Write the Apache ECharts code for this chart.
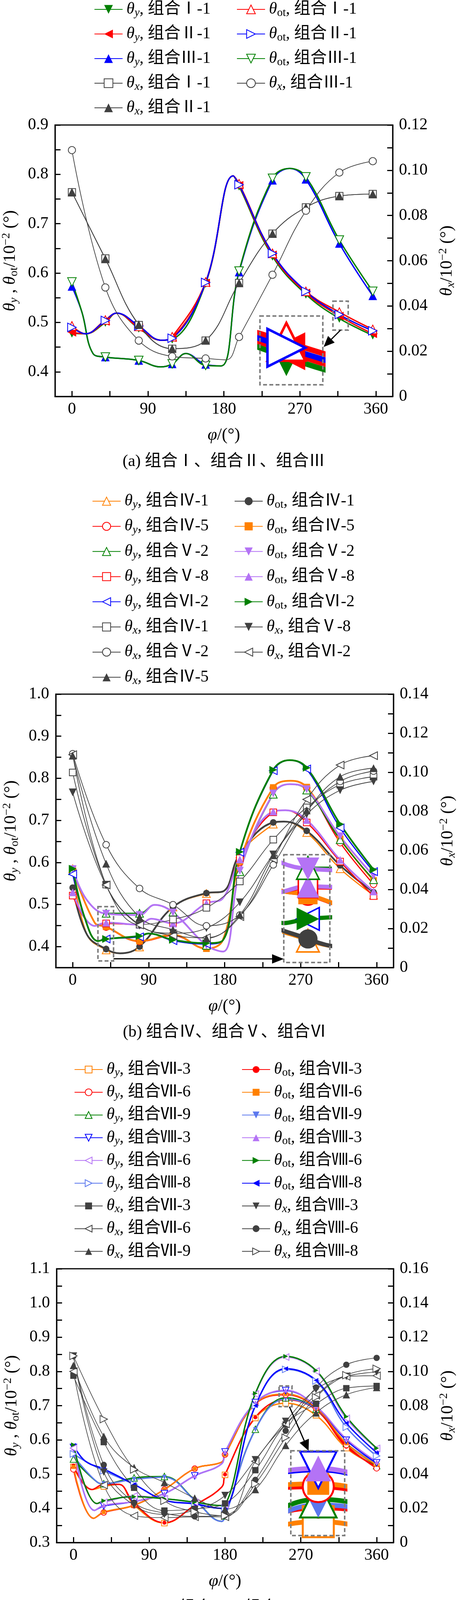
<!DOCTYPE html>
<html>
<head>
<meta charset="utf-8">
<script src="https://cdn.jsdelivr.net/npm/echarts@6/dist/echarts.min.js"></script>
<style>
html, body { margin: 0; padding: 0; background: #fff; }
#main { width: 1181px; height: 4153px; }
</style>
</head>
<body>
<div id="main"></div>
<script>
// ---------- angles (markers) ----------
var phiAB = [0, 39.6, 79.2, 118.8, 158.4, 198, 237.6, 277.2, 316.8, 356.4];
var phiC = [0, 36, 72, 108, 144, 180, 216, 252, 288, 324, 360];

// ---------- tick labels ----------
var phiTicks = [0, 45, 90, 135, 180, 225, 270, 315, 360];
var phiLabels = [0, 90, 180, 270, 360];
var aLeftLabels = [0.4, 0.5, 0.6, 0.7, 0.8, 0.9];
var aLeftTicks = [0.4, 0.45, 0.5, 0.55, 0.6, 0.65, 0.7, 0.75, 0.8, 0.85, 0.9];
var aRightLabels = [0, 0.02, 0.04, 0.06, 0.08, 0.10, 0.12];
var aRightTicks = [0, 0.01, 0.02, 0.03, 0.04, 0.05, 0.06, 0.07, 0.08, 0.09, 0.10, 0.11, 0.12];
var bLeftLabels = [0.4, 0.5, 0.6, 0.7, 0.8, 0.9, 1.0];
var bLeftTicks = [0.4, 0.45, 0.5, 0.55, 0.6, 0.65, 0.7, 0.75, 0.8, 0.85, 0.9, 0.95, 1.0];
var bRightLabels = [0, 0.02, 0.04, 0.06, 0.08, 0.10, 0.12, 0.14];
var bRightTicks = [0, 0.01, 0.02, 0.03, 0.04, 0.05, 0.06, 0.07, 0.08, 0.09, 0.10, 0.11, 0.12, 0.13, 0.14];
var cLeftLabels = [0.3, 0.4, 0.5, 0.6, 0.7, 0.8, 0.9, 1.0, 1.1];
var cLeftTicks = [0.3, 0.35, 0.4, 0.45, 0.5, 0.55, 0.6, 0.65, 0.7, 0.75, 0.8, 0.85, 0.9, 0.95, 1.0, 1.05, 1.1];
var cRightLabels = [0, 0.02, 0.04, 0.06, 0.08, 0.10, 0.12, 0.14, 0.16];
var cRightTicks = [0, 0.01, 0.02, 0.03, 0.04, 0.05, 0.06, 0.07, 0.08, 0.09, 0.10, 0.11, 0.12, 0.13, 0.14, 0.15, 0.16];

// ---------- (a) 组合Ⅰ、Ⅱ、Ⅲ ----------
var aThyI1    = [0.478, 0.500, 0.488, 0.466, 0.579, 0.776, 0.634, 0.557, 0.508, 0.474];
var aThotI1   = [0.493, 0.505, 0.492, 0.471, 0.582, 0.781, 0.640, 0.563, 0.521, 0.486];
var aThyII1   = [0.480, 0.502, 0.489, 0.469, 0.580, 0.778, 0.637, 0.560, 0.513, 0.477];
var aThotII1  = [0.490, 0.504, 0.493, 0.468, 0.581, 0.779, 0.640, 0.563, 0.516, 0.483];
var aThyIII1  = [0.573, 0.430, 0.423, 0.416, 0.415, 0.602, 0.788, 0.790, 0.660, 0.554];
var aThotIII1 = [0.582, 0.430, 0.423, 0.416, 0.413, 0.604, 0.792, 0.795, 0.667, 0.563];
var aThxI1    = [0.0903, 0.0610, 0.0316, 0.0211, 0.0247, 0.0502, 0.0720, 0.0836, 0.0886, 0.0895];
var aThxII1   = [0.0903, 0.0608, 0.0318, 0.0212, 0.0248, 0.0502, 0.0720, 0.0836, 0.0886, 0.0895];
var aThxIII1  = [0.1089, 0.0482, 0.0247, 0.0177, 0.0168, 0.0263, 0.0538, 0.0821, 0.0990, 0.1040];
// curve points between markers
var aBendA = [[12, 0.52], [25, 0.437], [105, 0.41], [135, 0.437], [177, 0.412], [258, 0.812]];
var aBendB = [[16, 0.477], [53, 0.519], [106, 0.464], [191, 0.797]];
var aBendX = [[183, 0.0162]];

// ---------- (b) 组合Ⅳ、Ⅴ、Ⅵ ----------
var bThyIV1   = [0.585, 0.392, 0.399, 0.494, 0.526, 0.620, 0.691, 0.671, 0.585, 0.522];
var bThotIV1  = [0.540, 0.394, 0.400, 0.494, 0.527, 0.620, 0.695, 0.675, 0.593, 0.529];
var bThyIV5   = [0.582, 0.446, 0.412, 0.426, 0.396, 0.600, 0.777, 0.777, 0.647, 0.548];
var bThotIV5  = [0.584, 0.447, 0.413, 0.428, 0.395, 0.602, 0.778, 0.779, 0.656, 0.557];
var bThyV2    = [0.580, 0.479, 0.479, 0.482, 0.403, 0.578, 0.762, 0.772, 0.654, 0.559];
var bThotV2   = [0.584, 0.478, 0.475, 0.481, 0.403, 0.580, 0.764, 0.774, 0.662, 0.568];
var bThyV8    = [0.521, 0.455, 0.452, 0.455, 0.503, 0.610, 0.719, 0.695, 0.602, 0.520];
var bThotV8   = [0.529, 0.457, 0.452, 0.455, 0.503, 0.607, 0.721, 0.701, 0.606, 0.531];
var bThyVI2   = [0.572, 0.418, 0.423, 0.414, 0.406, 0.624, 0.818, 0.822, 0.682, 0.578];
var bThotVI2  = [0.585, 0.418, 0.425, 0.416, 0.408, 0.625, 0.820, 0.825, 0.691, 0.583];
var bThxIV1   = [0.0999, 0.0425, 0.0220, 0.0246, 0.0306, 0.0441, 0.0655, 0.0820, 0.0937, 0.0977];
var bThxV8    = [0.0897, 0.0420, 0.0215, 0.0176, 0.0202, 0.0334, 0.0579, 0.0785, 0.0908, 0.0953];
var bThxV2    = [0.1095, 0.0629, 0.0405, 0.0322, 0.0214, 0.0269, 0.0526, 0.0800, 0.0953, 0.1006];
var bThxVI2   = [0.1090, 0.0423, 0.0218, 0.0164, 0.0153, 0.0261, 0.0555, 0.0861, 0.1037, 0.1085];
var bThxIV5   = [0.1085, 0.0532, 0.0258, 0.0194, 0.0150, 0.0270, 0.0575, 0.0805, 0.0977, 0.1021];
var bBendIV1 = [[17, 0.428], [56, 0.384], [178, 0.531], [250, 0.697]];
var bBendIV5 = [[26, 0.457], [178, 0.416], [258, 0.794]];
var bBendV2  = [[17, 0.51], [97, 0.499], [178, 0.388], [257, 0.786]];
var bBendV8  = [[26, 0.449], [93, 0.466], [178, 0.515], [252, 0.724]];
var bBendVI2 = [[14, 0.47], [30, 0.413], [90, 0.431], [178, 0.415], [257, 0.843]];

// ---------- (c) 组合Ⅶ、Ⅷ ----------
var cThyVII3   = [0.521, 0.464, 0.410, 0.357, 0.409, 0.498, 0.664, 0.707, 0.672, 0.576, 0.523];
var cThotVII3  = [0.525, 0.470, 0.415, 0.358, 0.409, 0.499, 0.666, 0.717, 0.688, 0.580, 0.523];
var cThyVII6   = [0.514, 0.388, 0.409, 0.455, 0.516, 0.557, 0.705, 0.732, 0.693, 0.585, 0.517];
var cThotVII6  = [0.521, 0.389, 0.409, 0.455, 0.516, 0.557, 0.706, 0.734, 0.695, 0.590, 0.527];
var cThyVII9   = [0.544, 0.472, 0.489, 0.493, 0.425, 0.378, 0.631, 0.723, 0.690, 0.590, 0.525];
var cThotVII9  = [0.553, 0.472, 0.485, 0.491, 0.424, 0.375, 0.630, 0.719, 0.690, 0.590, 0.532];
var cThyVIII3  = [0.578, 0.407, 0.420, 0.443, 0.495, 0.565, 0.709, 0.744, 0.698, 0.599, 0.533];
var cThotVIII3 = [0.576, 0.409, 0.420, 0.443, 0.495, 0.565, 0.709, 0.745, 0.698, 0.603, 0.536];
var cThyVIII6  = [0.576, 0.418, 0.436, 0.428, 0.418, 0.410, 0.734, 0.842, 0.801, 0.663, 0.575];
var cThotVIII6 = [0.586, 0.422, 0.434, 0.428, 0.418, 0.410, 0.736, 0.844, 0.803, 0.668, 0.576];
var cThyVIII8  = [0.559, 0.510, 0.470, 0.424, 0.414, 0.401, 0.700, 0.806, 0.772, 0.637, 0.553];
var cThotVIII8 = [0.584, 0.515, 0.470, 0.424, 0.413, 0.401, 0.700, 0.808, 0.774, 0.649, 0.563];
var cThxVII3   = [0.0975, 0.0587, 0.0320, 0.0187, 0.0197, 0.0229, 0.0423, 0.0690, 0.0811, 0.0902, 0.0915];
var cThxVII6   = [0.1000, 0.0336, 0.0157, 0.0146, 0.0150, 0.0150, 0.0475, 0.0693, 0.0860, 0.0971, 0.0975];
var cThxVII9   = [0.1035, 0.0621, 0.0438, 0.0351, 0.0260, 0.0195, 0.0310, 0.0568, 0.0758, 0.0864, 0.0906];
var cThxVIII3  = [0.1090, 0.0412, 0.0218, 0.0165, 0.0190, 0.0275, 0.0484, 0.0708, 0.0895, 0.0971, 0.0997];
var cThxVIII6  = [0.1090, 0.0454, 0.0233, 0.0172, 0.0153, 0.0160, 0.0366, 0.0653, 0.0906, 0.1039, 0.1079];
var cThxVIII8  = [0.1091, 0.0721, 0.0427, 0.0244, 0.0180, 0.0157, 0.0343, 0.0613, 0.0849, 0.0978, 0.1016];
var cBendVII3  = [[22, 0.455], [54, 0.47], [176, 0.462]];
var cBendVII6  = [[24, 0.371], [176, 0.535]];
var cBendVII9  = [[28, 0.477], [176, 0.362]];
var cBendVIII3 = [[25, 0.394], [176, 0.53]];
var cBendVIII6 = [[28, 0.414], [176, 0.408]];
var cBendVIII8 = [[14, 0.538], [176, 0.40]];

// ---------- styles ----------
var SERIF = '"Liberation Serif", "Times New Roman", serif';
var CJK = '"Liberation Serif", "Noto Sans CJK SC", serif';
var GREEN = '#008000', RED = '#ff0000', BLUE = '#0000ff', ORANGE = '#ff8000';
var PURPLE = '#b473f5', ROYAL = '#5b78ee', DARK = '#404040';

var SHAPES = {
    up: ['triangle', 0],
    dn: ['triangle', 180],
    lt: ['triangle', 90],
    rt: ['triangle', -90],
    sq: ['rect', 0],
    ci: ['circle', 0]
};

// grid boxes of the three plots and of the magnified insets
var GA = {left: 141, top: 320, width: 865, height: 695};
var GB = {left: 143, top: 1777, width: 865, height: 700};
var GC = {left: 145, top: 3248, width: 863, height: 701};
var IA = {left: 666, top: 809, width: 161, height: 176};
var IB = {left: 727, top: 2188, width: 118, height: 276};
var IC = {left: 745, top: 3714, width: 138, height: 217};

// series definitions: n name, y values, e extra curve points, c colour, s shape, o open marker, k kind
var seriesA = [
    {n: 'θy, 组合Ⅲ-1', y: aThyIII1, e: aBendA, c: BLUE, s: 'up', o: false, k: 'y'},
    {n: 'θot, 组合Ⅲ-1', y: aThotIII1, e: aBendA, c: GREEN, s: 'dn', o: true, k: 'ot'},
    {n: 'θy, 组合Ⅰ-1', y: aThyI1, e: aBendB, c: GREEN, s: 'dn', o: false, k: 'y'},
    {n: 'θy, 组合Ⅱ-1', y: aThyII1, e: aBendB, c: RED, s: 'lt', o: false, k: 'y'},
    {n: 'θot, 组合Ⅰ-1', y: aThotI1, e: aBendB, c: RED, s: 'up', o: true, k: 'ot'},
    {n: 'θot, 组合Ⅱ-1', y: aThotII1, e: aBendB, c: BLUE, s: 'rt', o: true, k: 'ot'},
    {n: 'θx, 组合Ⅰ-1', y: aThxI1, e: null, c: DARK, s: 'sq', o: true, k: 'x'},
    {n: 'θx, 组合Ⅱ-1', y: aThxII1, e: null, c: DARK, s: 'up', o: false, k: 'x'},
    {n: 'θx, 组合Ⅲ-1', y: aThxIII1, e: aBendX, c: DARK, s: 'ci', o: true, k: 'x'}
];
var seriesB = [
    {n: 'θy, 组合Ⅳ-1', y: bThyIV1, e: bBendIV1, c: ORANGE, s: 'up', o: true, k: 'y'},
    {n: 'θot, 组合Ⅳ-1', y: bThotIV1, e: bBendIV1, c: DARK, s: 'ci', o: false, k: 'ot'},
    {n: 'θy, 组合Ⅳ-5', y: bThyIV5, e: bBendIV5, c: RED, s: 'ci', o: true, k: 'y'},
    {n: 'θot, 组合Ⅳ-5', y: bThotIV5, e: bBendIV5, c: ORANGE, s: 'sq', o: false, k: 'ot'},
    {n: 'θy, 组合Ⅴ-8', y: bThyV8, e: bBendV8, c: RED, s: 'sq', o: true, k: 'y'},
    {n: 'θot, 组合Ⅴ-8', y: bThotV8, e: bBendV8, c: PURPLE, s: 'up', o: false, k: 'ot'},
    {n: 'θy, 组合Ⅴ-2', y: bThyV2, e: bBendV2, c: GREEN, s: 'up', o: true, k: 'y'},
    {n: 'θot, 组合Ⅴ-2', y: bThotV2, e: bBendV2, c: PURPLE, s: 'dn', o: false, k: 'ot'},
    {n: 'θy, 组合Ⅵ-2', y: bThyVI2, e: bBendVI2, c: BLUE, s: 'lt', o: true, k: 'y'},
    {n: 'θot, 组合Ⅵ-2', y: bThotVI2, e: bBendVI2, c: GREEN, s: 'rt', o: false, k: 'ot'},
    {n: 'θx, 组合Ⅳ-1', y: bThxIV1, e: null, c: DARK, s: 'sq', o: true, k: 'x'},
    {n: 'θx, 组合Ⅴ-8', y: bThxV8, e: null, c: DARK, s: 'dn', o: false, k: 'x'},
    {n: 'θx, 组合Ⅴ-2', y: bThxV2, e: null, c: DARK, s: 'ci', o: true, k: 'x'},
    {n: 'θx, 组合Ⅵ-2', y: bThxVI2, e: null, c: DARK, s: 'lt', o: true, k: 'x'},
    {n: 'θx, 组合Ⅳ-5', y: bThxIV5, e: null, c: DARK, s: 'up', o: false, k: 'x'}
];
var seriesC = [
    {n: 'θy, 组合Ⅶ-3', y: cThyVII3, e: cBendVII3, c: ORANGE, s: 'sq', o: true, k: 'y'},
    {n: 'θot, 组合Ⅶ-3', y: cThotVII3, e: cBendVII3, c: RED, s: 'ci', o: false, k: 'ot'},
    {n: 'θy, 组合Ⅶ-9', y: cThyVII9, e: cBendVII9, c: GREEN, s: 'up', o: true, k: 'y'},
    {n: 'θot, 组合Ⅶ-9', y: cThotVII9, e: cBendVII9, c: ROYAL, s: 'dn', o: false, k: 'ot'},
    {n: 'θy, 组合Ⅶ-6', y: cThyVII6, e: cBendVII6, c: RED, s: 'ci', o: true, k: 'y'},
    {n: 'θot, 组合Ⅶ-6', y: cThotVII6, e: cBendVII6, c: ORANGE, s: 'sq', o: false, k: 'ot'},
    {n: 'θy, 组合Ⅷ-3', y: cThyVIII3, e: cBendVIII3, c: BLUE, s: 'dn', o: true, k: 'y'},
    {n: 'θot, 组合Ⅷ-3', y: cThotVIII3, e: cBendVIII3, c: PURPLE, s: 'up', o: false, k: 'ot'},
    {n: 'θy, 组合Ⅷ-8', y: cThyVIII8, e: cBendVIII8, c: ROYAL, s: 'rt', o: true, k: 'y'},
    {n: 'θot, 组合Ⅷ-8', y: cThotVIII8, e: cBendVIII8, c: BLUE, s: 'lt', o: false, k: 'ot'},
    {n: 'θy, 组合Ⅷ-6', y: cThyVIII6, e: cBendVIII6, c: PURPLE, s: 'lt', o: true, k: 'y'},
    {n: 'θot, 组合Ⅷ-6', y: cThotVIII6, e: cBendVIII6, c: GREEN, s: 'rt', o: false, k: 'ot'},
    {n: 'θx, 组合Ⅶ-3', y: cThxVII3, e: null, c: DARK, s: 'sq', o: false, k: 'x'},
    {n: 'θx, 组合Ⅶ-6', y: cThxVII6, e: null, c: DARK, s: 'lt', o: true, k: 'x'},
    {n: 'θx, 组合Ⅶ-9', y: cThxVII9, e: null, c: DARK, s: 'up', o: false, k: 'x'},
    {n: 'θx, 组合Ⅷ-3', y: cThxVIII3, e: null, c: DARK, s: 'dn', o: false, k: 'x'},
    {n: 'θx, 组合Ⅷ-6', y: cThxVIII6, e: null, c: DARK, s: 'ci', o: false, k: 'x'},
    {n: 'θx, 组合Ⅷ-8', y: cThxVIII8, e: null, c: DARK, s: 'rt', o: true, k: 'x'}
];

var panels = [
    {
        xs: phiAB, list: seriesA, grid: GA, left: [0.35, 0.9], right: [0, 0.12],
        lLab: aLeftLabels, lTick: aLeftTicks, rLab: aRightLabels, rTick: aRightTicks,
        lw: {y: 3.5, ot: 3.5, x: 1.8}, size: {y: 22, ot: 22, x: 22}, bw: 2,
        inset: {grid: IA, wx: [309.2, 327.3], wy: [0.4845, 0.543], k: 4.4, lk: 4, from: [0.5, 1], to: [1, 0.45], dx: 2, head: [28, 24]},
        legend: [
            {left: 241, names: ['θy, 组合Ⅰ-1', 'θy, 组合Ⅱ-1', 'θy, 组合Ⅲ-1', 'θx, 组合Ⅰ-1', 'θx, 组合Ⅱ-1']},
            {left: 606, names: ['θot, 组合Ⅰ-1', 'θot, 组合Ⅱ-1', 'θot, 组合Ⅲ-1', 'θx, 组合Ⅲ-1']}
        ],
        legTop: 0, legLH: 48, legGap: 15, legIH: 28,
        caption: '(a) 组合Ⅰ、组合Ⅱ、组合Ⅲ', capY: 1182
    },
    {
        xs: phiAB, list: seriesB, grid: GB, left: [0.35, 1.0], right: [0, 0.14],
        lLab: bLeftLabels, lTick: bLeftTicks, rLab: bRightLabels, rTick: bRightTicks,
        lw: {y: 3, ot: 4.5, x: 1.8}, size: {y: 20, ot: 20, x: 20}, bw: 2,
        inset: {grid: IB, wx: [29.9, 48.4], wy: [0.3658, 0.4949], k: 2.9, lk: 2.4, from: [1, 0.96], to: [0, 0.967], dx: 0, head: [30, 24]},
        legend: [
            {left: 236, names: ['θy, 组合Ⅳ-1', 'θy, 组合Ⅳ-5', 'θy, 组合Ⅴ-2', 'θy, 组合Ⅴ-8', 'θy, 组合Ⅵ-2', 'θx, 组合Ⅳ-1', 'θx, 组合Ⅴ-2', 'θx, 组合Ⅳ-5']},
            {left: 600, names: ['θot, 组合Ⅳ-1', 'θot, 组合Ⅳ-5', 'θot, 组合Ⅴ-2', 'θot, 组合Ⅴ-8', 'θot, 组合Ⅵ-2', 'θx, 组合Ⅴ-8', 'θx, 组合Ⅵ-2']}
        ],
        legTop: 1259, legLH: 48, legGap: 16.4, legIH: 26,
        caption: '(b) 组合Ⅳ、组合Ⅴ、组合Ⅵ', capY: 2643
    },
    {
        xs: phiC, list: seriesC, grid: GC, left: [0.3, 1.1], right: [0, 0.16],
        lLab: cLeftLabels, lTick: cLeftTicks, rLab: cRightLabels, rTick: cRightTicks,
        lw: {y: 3.5, ot: 3.5, x: 1.6}, size: {y: 17, ot: 12, x: 19}, bw: 1.8,
        inset: {grid: IC, wx: [244.2, 259.5], wy: [0.6971, 0.7576], k: 5.5, lk: 3.5, from: [0.8, 1], to: [0.33, 0], dx: 0, head: [28, 26]},
        legend: [
            {left: 190, names: ['θy, 组合Ⅶ-3', 'θy, 组合Ⅶ-6', 'θy, 组合Ⅶ-9', 'θy, 组合Ⅷ-3', 'θy, 组合Ⅷ-6', 'θy, 组合Ⅷ-8', 'θx, 组合Ⅶ-3', 'θx, 组合Ⅶ-6', 'θx, 组合Ⅶ-9']},
            {left: 619, names: ['θot, 组合Ⅶ-3', 'θot, 组合Ⅶ-6', 'θot, 组合Ⅶ-9', 'θot, 组合Ⅷ-3', 'θot, 组合Ⅷ-6', 'θot, 组合Ⅷ-8', 'θx, 组合Ⅷ-3', 'θx, 组合Ⅷ-6', 'θx, 组合Ⅷ-8']}
        ],
        legTop: 2715, legLH: 46, legGap: 12.2, legIH: 22,
        caption: '(c) 组合Ⅶ、组合Ⅷ', capY: 4117
    }
];

// ---------- helpers ----------
function richSet(fs, lh) {
    var sub = Math.round(fs * 0.68);
    return {
        th: {fontFamily: SERIF, fontStyle: 'italic', fontSize: fs, lineHeight: lh, color: '#000'},
        si: {fontFamily: SERIF, fontStyle: 'italic', fontSize: sub, lineHeight: sub, padding: [lh - sub, 0, 0, 0], color: '#000'},
        su: {fontFamily: SERIF, fontSize: sub, lineHeight: sub, padding: [lh - sub, 0, 0, 0], color: '#000'},
        sp: {fontFamily: SERIF, fontSize: sub, lineHeight: sub, padding: [0, 0, lh - sub, 0], color: '#000'},
        t: {fontFamily: CJK, fontSize: fs, lineHeight: lh, color: '#000'}
    };
}

function legendLabel(name) {
    var k = name.indexOf(',');
    var sub = name.slice(1, k);
    return '{th|θ}{' + (sub === 'ot' ? 'su' : 'si') + '|' + sub + '}{t|' + name.slice(k) + '}';
}

function lineData(xs, ys, extra) {
    var pts = xs.map(function (x, i) { return [x, ys[i]]; });
    if (extra) pts = pts.concat(extra);
    pts.sort(function (a, b) { return a[0] - b[0]; });
    return pts;
}

function makeSeries(p, d, xi, yi, zoom, lzoom, z) {
    var sh = SHAPES[d.s];
    var size = p.size[d.k] * (sh[0] === 'triangle' ? 1 : 0.85) * zoom;
    var marks = p.xs;
    return {
        type: 'line',
        name: zoom > 1 ? '放大 ' + d.n : d.n,
        xAxisIndex: xi,
        yAxisIndex: yi,
        data: lineData(p.xs, d.y, d.e),
        smooth: 0.4,
        symbol: sh[0],
        symbolRotate: sh[1],
        symbolSize: function (v) { return marks.indexOf(v[0]) >= 0 ? size : 0; },
        showAllSymbol: true,
        clip: true,
        z: z,
        lineStyle: {color: d.c, width: p.lw[d.k] * lzoom},
        itemStyle: {color: d.o ? '#fff' : d.c, borderColor: d.c, borderWidth: d.o ? p.bw * Math.max(1, lzoom * 0.8) : 0},
        emphasis: {disabled: true},
        animation: false
    };
}

function fmtRight(v) { return v === 0 ? '0' : v.toFixed(2); }

var tickStyle = {inside: true, length: 14, lineStyle: {color: '#000', width: 3}};
var lineAxis = {onZero: false, lineStyle: {color: '#000', width: 3}};
var labelBase = {color: '#000', fontFamily: SERIF, fontSize: 42};
var nameStyle = {rich: richSet(44, 50)};

var option = {
    backgroundColor: '#fff',
    animation: false,
    grid: [], xAxis: [], yAxis: [], series: [], legend: []
};

panels.forEach(function (p, i) {
    option.grid.push({left: p.grid.left, top: p.grid.top, width: p.grid.width, height: p.grid.height,
        show: true, borderColor: '#000', borderWidth: 3, backgroundColor: 'transparent', outerBoundsMode: 'none'});
    option.xAxis.push({
        type: 'value', gridIndex: i, min: -20, max: 380,
        axisLine: lineAxis,
        axisTick: Object.assign({customValues: phiTicks}, tickStyle),
        axisLabel: Object.assign({customValues: phiLabels, margin: 12}, labelBase),
        splitLine: {show: false},
        name: '{th|φ}{t|/(°)}', nameLocation: 'middle', nameGap: 74, nameTextStyle: nameStyle
    });
    option.yAxis.push({
        type: 'value', gridIndex: i, position: 'left', min: p.left[0], max: p.left[1],
        axisLine: lineAxis,
        axisTick: Object.assign({customValues: p.lTick}, tickStyle),
        axisLabel: Object.assign({customValues: p.lLab, margin: 17, formatter: function (v) { return v.toFixed(1); }}, labelBase),
        splitLine: {show: false},
        name: '{th|θ}{si|y}{t| , }{th|θ}{su|ot}{t|/10}{sp|−2}{t| (°)}',
        nameLocation: 'middle', nameRotate: 90, nameGap: 90, nameTextStyle: nameStyle
    });
    option.yAxis.push({
        type: 'value', gridIndex: i, position: 'right', min: p.right[0], max: p.right[1],
        axisLine: lineAxis,
        axisTick: Object.assign({customValues: p.rTick}, tickStyle),
        axisLabel: Object.assign({customValues: p.rLab, margin: 16, formatter: fmtRight}, labelBase),
        splitLine: {show: false},
        name: '{th|θ}{si|x}{t|/10}{sp|−2}{t| (°)}',
        nameLocation: 'middle', nameRotate: 90, nameGap: 114, nameTextStyle: nameStyle
    });
    p.list.forEach(function (d) {
        option.series.push(makeSeries(p, d, i, d.k === 'x' ? 2 * i + 1 : 2 * i, 1, 1, 2));
    });
    p.legend.forEach(function (col) {
        option.legend.push({
            orient: 'vertical', left: col.left, top: p.legTop, padding: 0,
            data: col.names, itemWidth: 72, itemHeight: p.legIH, itemGap: p.legGap,
            selectedMode: false, formatter: legendLabel,
            textStyle: {fontSize: 42, lineHeight: p.legLH, rich: richSet(42, p.legLH), padding: [0, 0, 0, 5]}
        });
    });
});

// magnified insets: their own grids and axes, same data
panels.forEach(function (p, i) {
    var ins = p.inset;
    var gi = option.grid.length;
    option.grid.push({left: ins.grid.left, top: ins.grid.top, width: ins.grid.width, height: ins.grid.height, show: false, outerBoundsMode: 'none'});
    var xi = option.xAxis.length;
    option.xAxis.push({type: 'value', gridIndex: gi, min: ins.wx[0], max: ins.wx[1], show: false});
    var yi = option.yAxis.length;
    option.yAxis.push({type: 'value', gridIndex: gi, min: ins.wy[0], max: ins.wy[1], show: false});
    p.list.forEach(function (d) {
        if (d.k !== 'x') option.series.push(makeSeries(p, d, xi, yi, ins.k, ins.lk, 10));
    });
});

var chart = echarts.init(document.getElementById('main'), null, {renderer: 'canvas', width: 1181, height: 4153});
chart.setOption(option);

// ---------- inset frames, arrows, captions ----------
function dashedRect(x, y, w, h, z) {
    return {type: 'rect', z: z, shape: {x: x, y: y, width: w, height: h},
        style: {fill: null, stroke: '#808080', lineWidth: 4, lineDash: [10, 6]}};
}
function arrowEls(x1, y1, x2, y2, len, wid) {
    var dx = x2 - x1, dy = y2 - y1, L = Math.sqrt(dx * dx + dy * dy);
    var ux = dx / L, uy = dy / L;
    var bx = x2 - ux * len, by = y2 - uy * len;
    var px = -uy * wid / 2, py = ux * wid / 2;
    return [
        {type: 'line', z: 20, shape: {x1: x1, y1: y1, x2: bx, y2: by}, style: {stroke: '#000', lineWidth: 3}},
        {type: 'polygon', z: 20, shape: {points: [[x2, y2], [bx + px, by + py], [bx - px, by - py]]}, style: {fill: '#000'}}
    ];
}

var gfx = [];
panels.forEach(function (p, i) {
    var ins = p.inset, g = ins.grid;
    var sx1 = chart.convertToPixel({xAxisIndex: i}, ins.wx[0]);
    var sx2 = chart.convertToPixel({xAxisIndex: i}, ins.wx[1]);
    var sy1 = chart.convertToPixel({yAxisIndex: 2 * i}, ins.wy[1]);
    var sy2 = chart.convertToPixel({yAxisIndex: 2 * i}, ins.wy[0]);
    gfx.push(dashedRect(sx1, sy1, sx2 - sx1, sy2 - sy1, 20));
    gfx.push({type: 'rect', z: 5, shape: {x: g.left, y: g.top, width: g.width, height: g.height}, style: {fill: '#fff'}});
    gfx.push(dashedRect(g.left, g.top, g.width, g.height, 20));
    var ax = sx1 + ins.from[0] * (sx2 - sx1), ay = sy1 + ins.from[1] * (sy2 - sy1);
    var bx = g.left + ins.to[0] * g.width + ins.dx, by = g.top + ins.to[1] * g.height;
    gfx = gfx.concat(arrowEls(ax, ay, bx, by, ins.head[0], ins.head[1]));
    gfx.push({type: 'text', z: 20, x: p.grid.left + p.grid.width / 2, y: p.capY,
        style: {text: p.caption, fill: '#000', font: '42px ' + CJK, textAlign: 'center', textVerticalAlign: 'middle', verticalAlign: 'middle'}});
});
chart.setOption({graphic: gfx});
</script>
</body>
</html>
